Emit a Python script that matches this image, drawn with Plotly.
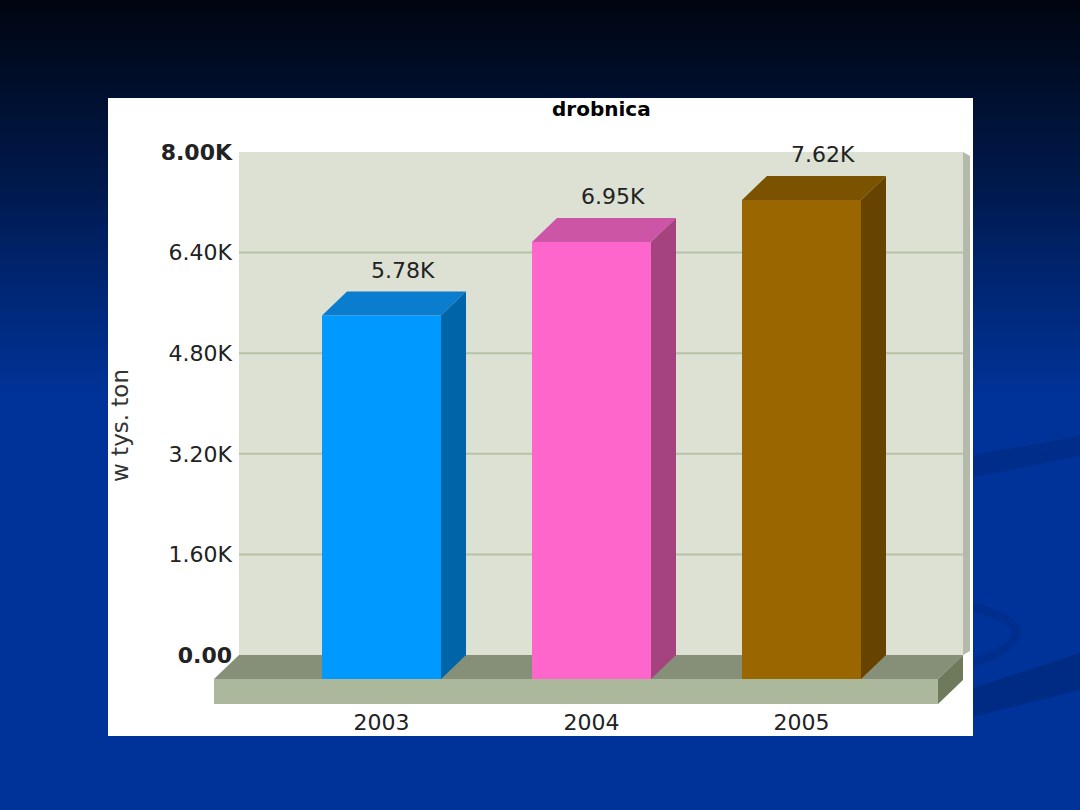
import plotly.graph_objects as go

# ---------------- data ----------------
years = ["2003", "2004", "2005"]
values = [5780, 6950, 7620]
tick_values = [0, 1600, 3200, 4800, 6400, 8000]
title_text = "drobnica"
y_title = "w tys. ton"

front_colors = ["#0099ff", "#ff66cc", "#996600"]
top_colors = ["#0a7dcf", "#cc55a6", "#7a5200"]
side_colors = ["#0064a8", "#a5437f", "#664400"]

# ---------------- geometry (pixels) ----------------
W, H = 1080, 810
PX0, PY0, PX1, PY1 = 108, 98, 973, 736          # white panel
WALL_L, WALL_R = 239, 963
WALL_TOP, WALL_BOT = 152, 655                   # pixel rows of 8000 and 0
X0_PIX, X_STEP = 406.5, 210                     # back-plane pixel of category 0, spacing
BAR_W_PIX = 119
DEPTH_X, DEPTH_Y = -25, 24
FLOOR_H = 25
YMAX = tick_values[-1]
FONT = "DejaVu Sans"
FS = 22


def xv(p):
    return (p - X0_PIX) / X_STEP


def yv(p):
    return (WALL_BOT - p) * YMAX / (WALL_BOT - WALL_TOP)


def py(p):
    return (H - p) / H


def pxf(p):
    return p / W


dx = DEPTH_X / X_STEP
dy = yv(WALL_BOT + DEPTH_Y)
floor_bot = yv(WALL_BOT + DEPTH_Y + FLOOR_H)
bw = BAR_W_PIX / X_STEP

fig = go.Figure()


def poly(xs, ys, color):
    fig.add_trace(go.Scatter(
        x=list(xs) + [xs[0]], y=list(ys) + [ys[0]], mode="lines", fill="toself",
        fillcolor=color, line=dict(width=0, color=color), hoverinfo="skip",
        showlegend=False))


wl, wr = xv(WALL_L), xv(WALL_R)
# back wall
poly([wl, wr, wr, wl], [0, 0, YMAX, YMAX], "#dce1d4")
# wall thickness stripe on the right
ws = xv(WALL_R + 7)
poly([wr, ws, ws, wr], [YMAX, yv(WALL_TOP + 4), yv(WALL_BOT - 4), 0], "#b4baa9")
# grid lines
for t in tick_values[1:-1]:
    fig.add_trace(go.Scatter(x=[wl, wr], y=[t, t], mode="lines",
                             line=dict(color="#b7c2a5", width=2),
                             hoverinfo="skip", showlegend=False))
# floor
poly([wl, wr, wr + dx, wl + dx], [0, 0, dy, dy], "#868f77")
poly([wl + dx, wr + dx, wr + dx, wl + dx], [dy, dy, floor_bot, floor_bot], "#abb89b")
poly([wr + dx, wr, wr, wr + dx], [dy, 0, yv(WALL_BOT + FLOOR_H), floor_bot], "#6f7a5d")

# bars
for i, v in enumerate(values):
    fl, fr = i + dx - bw / 2, i + dx + bw / 2
    bl, br = i - bw / 2, i + bw / 2
    poly([fl, fr, fr, fl], [dy, dy, v + dy, v + dy], front_colors[i])
    poly([fl, bl, br, fr], [v + dy, v, v, v + dy], top_colors[i])
    poly([fr, br, br, fr], [dy, 0, v, v + dy], side_colors[i])

# value labels
annotations = []
for i, v in enumerate(values):
    annotations.append(dict(
        x=i - 0.015, y=v, xref="x", yref="y", text=f"{v / 1000:.2f}K",
        showarrow=False, yanchor="bottom", yshift=7,
        font=dict(family=FONT, size=FS, color="#222222")))

# title and axis title
annotations.append(dict(x=pxf(601.5), y=py(109), xref="paper", yref="paper",
                        text=f"<b>{title_text}</b>", showarrow=False,
                        xanchor="center", yanchor="middle",
                        font=dict(family=FONT, size=20, color="#000000")))
annotations.append(dict(x=pxf(120), y=py(426), xref="paper", yref="paper",
                        text=y_title, textangle=-90, showarrow=False,
                        xanchor="center", yanchor="middle",
                        font=dict(family=FONT, size=23, color="#333333")))

# tick labels
tick_text = []
for t in tick_values:
    s = "0.00" if t == 0 else f"{t / 1000:.2f}K"
    if t in (tick_values[0], tick_values[-1]):
        s = f"<b>{s}</b>"
    tick_text.append(s)

# ---------------- background shapes ----------------
shapes = []
stops = [(0, (0, 5, 16)), (100, (0, 16, 48)), (200, (0, 27, 82)),
         (300, (0, 40, 120)), (400, (0, 51, 153)), (810, (0, 51, 153))]


def col_at(y):
    for (y0, c0), (y1, c1) in zip(stops[:-1], stops[1:]):
        if y0 <= y <= y1:
            f = (y - y0) / (y1 - y0) if y1 > y0 else 0
            return "rgb(%d,%d,%d)" % tuple(round(a + (b - a) * f) for a, b in zip(c0, c1))
    return "rgb(0,51,153)"


step = 6
for y in range(0, 420, step):
    shapes.append(dict(type="rect", xref="paper", yref="paper", x0=0, x1=1,
                       y0=py(y + step + 1), y1=py(y), fillcolor=col_at(y + step / 2),
                       line=dict(width=0), layer="below"))


def path(points):
    return "M " + " L ".join(f"{pxf(x)},{py(y)}" for x, y in points) + " Z"


shapes.append(dict(type="path", xref="paper", yref="paper",
                   path=path([(900, 468), (1080, 436), (1080, 456), (900, 492)]),
                   fillcolor="#002d8a", line=dict(width=0), layer="below"))
shapes.append(dict(type="path", xref="paper", yref="paper",
                   path=path([(900, 712), (1080, 653), (1080, 690), (900, 735)]),
                   fillcolor="#002b84", line=dict(width=0), layer="below"))
shapes.append(dict(type="path", xref="paper", yref="paper",
                   path=(f"M {pxf(940)},{py(600)} Q {pxf(1025)},{py(615)} {pxf(1015)},{py(638)}"
                         f" Q {pxf(1005)},{py(658)} {pxf(940)},{py(670)}"),
                   line=dict(color="#002e8e", width=9), layer="below"))
# white panel
shapes.append(dict(type="rect", xref="paper", yref="paper", x0=pxf(PX0), x1=pxf(PX1),
                   y0=py(PY1), y1=py(PY0), fillcolor="#ffffff", line=dict(width=0),
                   layer="below"))

fig.update_layout(
    width=W, height=H, margin=dict(l=0, r=0, t=0, b=0),
    paper_bgcolor="#003399", plot_bgcolor="rgba(0,0,0,0)",
    shapes=shapes, annotations=annotations, showlegend=False,
    xaxis=dict(domain=[pxf(PX0), pxf(PX1)], range=[xv(PX0), xv(PX1)],
               anchor="free", position=py(WALL_BOT + DEPTH_Y + FLOOR_H),
               tickvals=[i + dx for i in range(len(years))], ticktext=years,
               showgrid=False, zeroline=False, showline=False, ticks="",
               ticklabelstandoff=3,
               tickfont=dict(family=FONT, size=FS, color="#222222"), fixedrange=True),
    yaxis=dict(domain=[py(PY1), py(PY0)], range=[yv(PY1), yv(PY0)],
               anchor="free", position=pxf(WALL_L),
               tickvals=tick_values, ticktext=tick_text,
               showgrid=False, zeroline=False, showline=False, ticks="",
               ticklabelstandoff=7,
               tickfont=dict(family=FONT, size=FS, color="#222222"), fixedrange=True),
)

fig.write_html(
    "out.html",
    config={"displayModeBar": False},
    post_script="document.body.style.margin='0';document.body.style.overflow='hidden';",
)
